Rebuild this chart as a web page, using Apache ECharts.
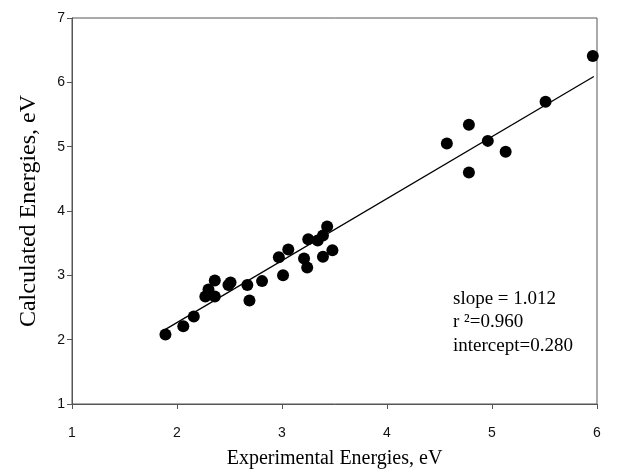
<!DOCTYPE html>
<html>
<head>
<meta charset="utf-8">
<script src="https://cdn.jsdelivr.net/npm/echarts@6/dist/echarts.min.js"></script>
<style>html,body{margin:0;padding:0;background:#fff;}#c{width:630px;height:474px;}</style>
</head>
<body>
<div id="c"></div>
<script>
var expX = [1.89, 2.06, 2.16, 2.27, 2.30, 2.36, 2.36, 2.49, 2.51, 2.67, 2.69, 2.81, 2.97, 3.01, 3.06, 3.21, 3.25, 3.24, 3.34, 3.39, 3.43, 3.39, 3.48, 4.57, 4.78, 4.78, 4.96, 5.13, 5.51, 5.96];
var calcY = [2.08, 2.21, 2.36, 2.67, 2.78, 2.92, 2.67, 2.85, 2.89, 2.85, 2.61, 2.91, 3.28, 3.00, 3.40, 3.26, 3.56, 3.12, 3.54, 3.62, 3.76, 3.29, 3.39, 5.05, 5.34, 4.60, 5.09, 4.92, 5.70, 6.41];
var fitX = [1.89, 5.97];
var fitY = [2.16, 6.09];
var xTicks = [1, 2, 3, 4, 5, 6];
var yTicks = [1, 2, 3, 4, 5, 6, 7];
var statLines = ['slope = 1.012', 'r \u00B2=0.960', 'intercept=0.280'];

var pts = expX.map(function (x, i) { return [x, calcY[i]]; });
var fit = fitX.map(function (x, i) { return [x, fitY[i]]; });

var chart = echarts.init(document.getElementById('c'));
var axisCol = '#555';
chart.setOption({
  animation: false,
  grid: { left: 72, right: 33, top: 18, bottom: 63, show: true, borderColor: axisCol, borderWidth: 1 },
  xAxis: {
    type: 'value', min: xTicks[0], max: xTicks[xTicks.length - 1], interval: 1,
    name: 'Experimental Energies, eV', nameLocation: 'middle', nameGap: 45,
    nameTextStyle: { fontFamily: 'Liberation Serif', fontSize: 20, color: '#000' },
    axisLine: { lineStyle: { color: axisCol } },
    axisTick: { show: true, length: 5, lineStyle: { color: axisCol } },
    axisLabel: { fontFamily: 'Liberation Sans', fontSize: 14, color: '#111', margin: 22 },
    splitLine: { show: false }
  },
  yAxis: {
    type: 'value', min: yTicks[0], max: yTicks[yTicks.length - 1], interval: 1,
    name: 'Calculated Energies, eV', nameLocation: 'middle', nameGap: 31,
    nameTextStyle: { fontFamily: 'Liberation Serif', fontSize: 24, color: '#000' },
    axisLine: { lineStyle: { color: axisCol } },
    axisTick: { show: true, length: 5, lineStyle: { color: axisCol } },
    axisLabel: { fontFamily: 'Liberation Sans', fontSize: 14, color: '#111', margin: 7 },
    splitLine: { show: false }
  },
  series: [
    { type: 'line', data: fit, symbol: 'none', lineStyle: { color: '#000', width: 1.3 }, z: 2 },
    { type: 'scatter', data: pts, symbol: 'circle', symbolSize: 12, itemStyle: { color: '#000', opacity: 1 }, z: 3 }
  ],
  graphic: [{
    type: 'text', left: 453, top: 287,
    style: { text: statLines.join('\n'), font: '19px "Liberation Serif"', fill: '#000', lineHeight: 23.5 }
  }]
});
</script>
</body>
</html>
